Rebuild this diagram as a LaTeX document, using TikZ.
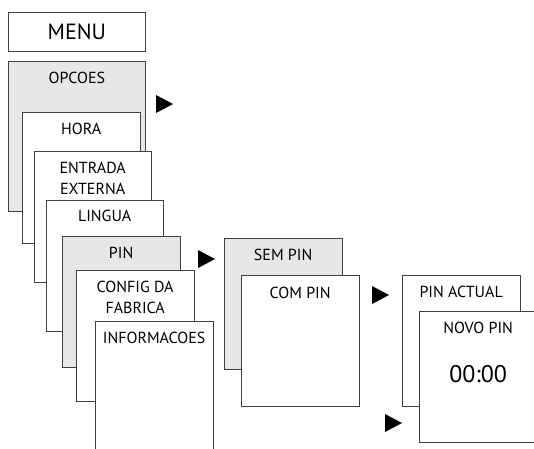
\documentclass[tikz,border=0pt]{standalone}
\usepackage{fontspec}
\setmainfont{PT Sans}
\usepackage{xcolor}
\usetikzlibrary{positioning}
\definecolor{menugrey}{RGB}{230,231,233}
\tikzstyle{menubox} = [draw=black!75, line width=0.8pt, fill=white, anchor=north west, inner sep=0pt, minimum width=117.5pt, minimum height=131pt]
\tikzstyle{greybox} = [menubox, fill=menugrey]
\tikzstyle{boxtext} = [inner sep=0pt, align=center, font=\fontsize{16}{21}\selectfont]
\tikzstyle{playmark} = [fill=black]

\begin{document}
\begin{tikzpicture}[x=1pt, y=-1pt]
    \useasboundingbox (0,0) rectangle (534,448);
    \clip (0,0) rectangle (534,448);

    % Title
    \node[menubox, minimum width=137pt, minimum height=39pt] (menu) at (8,12) {};
    \node[boxtext, font=\fontsize{22}{26}\selectfont] (menutext) at (menu.center) {MENU};

    % Options column
    \node[greybox, minimum width=137pt, minimum height=150pt] (opcoes) at (8,61) {};
    \node[boxtext, below=11pt of opcoes.north] (opcoestext) {OPCOES};

    \node[menubox] (hora) at (22,112) {};
    \node[boxtext, below=11pt of hora.north] (horatext) {HORA};

    \node[menubox] (entrada) at (33.5,151) {};
    \node[boxtext, below=10.5pt of entrada.north] (entradatext) {ENTRADA\\EXTERNA};

    \node[menubox] (lingua) at (45.5,200) {};
    \node[boxtext, below=10pt of lingua.north] (linguatext) {LINGUA};

    \node[greybox] (pin) at (62,236) {};
    \node[boxtext, below=10.5pt of pin.north] (pintext) {PIN};

    \node[menubox] (config) at (76,270) {};
    \node[boxtext, below=10.5pt of config.north] (configtext) {CONFIG DA\\FABRICA};

    \node[menubox] (info) at (95,321) {};
    \node[boxtext, below=10.5pt of info.north] (infotext) {INFORMACOES};

    % PIN choice
    \node[greybox] (sempin) at (224,238) {};
    \node[boxtext, below=11pt of sempin.north] (sempintext) {SEM PIN};

    \node[menubox] (compin) at (241,274.5) {};
    \node[boxtext, below=12pt of compin.north] (compintext) {COM PIN};

    % PIN entry
    \node[menubox] (pinactual) at (402,274.5) {};
    \node[boxtext, below=11pt of pinactual.north] (pinactualtext) {PIN ACTUAL};

    \node[menubox] (novopin) at (419,310.5) {};
    \node[boxtext, below=11pt of novopin.north] (novopintext) {NOVO PIN};
    \node[boxtext, font=\fontsize{24}{28}\selectfont, below=55pt of novopin.north] (clock) {00:00};

    % Arrows
    \coordinate (arr1) at (156,104);
    \coordinate (arr2) at (198,259);
    \coordinate (arr3) at (372,295);
    \coordinate (arr4) at (385,423);
    \foreach \a in {arr1,arr2,arr3,arr4}
        \fill[playmark] (\a) ++(0,-9) -- ++(17,9) -- ++(-17,9) -- cycle;
\end{tikzpicture}
\end{document}
